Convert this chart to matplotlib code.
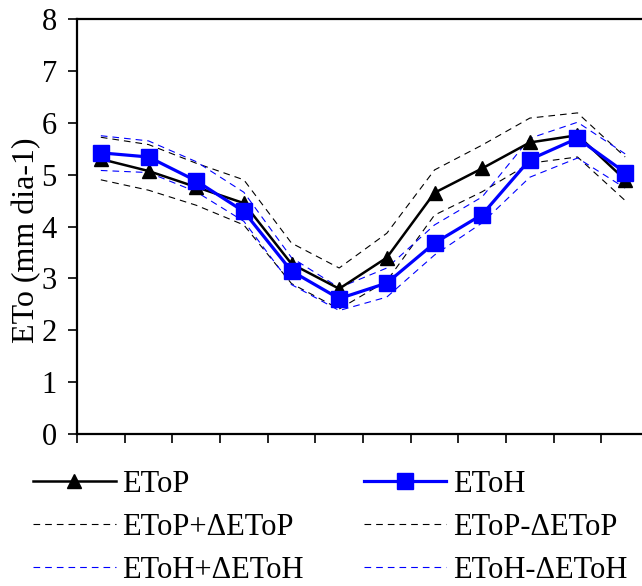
import numpy as np
import matplotlib
matplotlib.use("Agg")
import matplotlib.pyplot as plt

plt.rcParams['font.family'] = ['Liberation Serif', 'DejaVu Serif']

# monthly values
months = np.arange(1, 13)
etop = [5.30, 5.07, 4.76, 4.45, 3.28, 2.80, 3.40, 4.65, 5.12, 5.62, 5.76, 4.90]
etop_plus = [5.72, 5.58, 5.22, 4.90, 3.68, 3.20, 3.87, 5.09, 5.57, 6.09, 6.19, 5.34]
etop_minus = [4.90, 4.70, 4.41, 4.03, 2.90, 2.41, 2.95, 4.22, 4.67, 5.22, 5.34, 4.50]
etoh = [5.42, 5.34, 4.88, 4.29, 3.14, 2.61, 2.91, 3.68, 4.23, 5.29, 5.70, 5.04]
etoh_plus = [5.75, 5.65, 5.25, 4.66, 3.40, 2.82, 3.20, 4.03, 4.57, 5.70, 6.01, 5.40]
etoh_minus = [5.08, 5.04, 4.67, 4.10, 2.88, 2.38, 2.64, 3.45, 4.07, 4.95, 5.32, 4.74]

fig = plt.figure(figsize=(6.42, 5.86), dpi=100)
ax = fig.add_axes([77 / 642, 152 / 586, 572 / 642, 415 / 586])

dash = (0, (6, 4.5))
l3, = ax.plot(months, etop_plus, color='black', lw=0.8, linestyle=dash, label='EToP+ΔEToP')
l4, = ax.plot(months, etop_minus, color='black', lw=0.8, linestyle=dash, label='EToP-ΔEToP')
l5, = ax.plot(months, etoh_plus, color='blue', lw=0.8, linestyle=dash, label='EToH+ΔEToH')
l6, = ax.plot(months, etoh_minus, color='blue', lw=0.8, linestyle=dash, label='EToH-ΔEToH')
l1, = ax.plot(months, etop, color='black', lw=1.8, marker='^', markersize=10, label='EToP')
l2, = ax.plot(months, etoh, color='blue', lw=2.3, marker='s', markersize=11,
              markeredgecolor='blue', label='EToH')

ax.set_xlim(0.5, 12.5)
ax.set_ylim(0, 8)
ax.set_xticks(np.arange(0.5, 13, 1))
ax.set_xticklabels([])
ax.set_yticks(range(0, 9))
ax.tick_params(axis='both', direction='out', length=6.5, width=1.2, labelsize=22)
ax.tick_params(axis='y', pad=8)
for s in ax.spines.values():
    s.set_linewidth(1.6)

ax.set_ylabel('ETo (mm dia-1)', fontsize=23)
ax.yaxis.set_label_coords(-0.063, 0.466)

handles = [l1, l3, l5, l2, l4, l6]
fig.legend(handles=handles, labels=[h.get_label() for h in handles],
           loc='upper left', bbox_to_anchor=(33 / 642, 1 - 470 / 586),
           ncol=2, frameon=False, fontsize=22, handlelength=2.7,
           handletextpad=0.23, columnspacing=1.95, labelspacing=0.45,
           borderaxespad=0, borderpad=0)

fig.savefig('out.png', dpi=100)
